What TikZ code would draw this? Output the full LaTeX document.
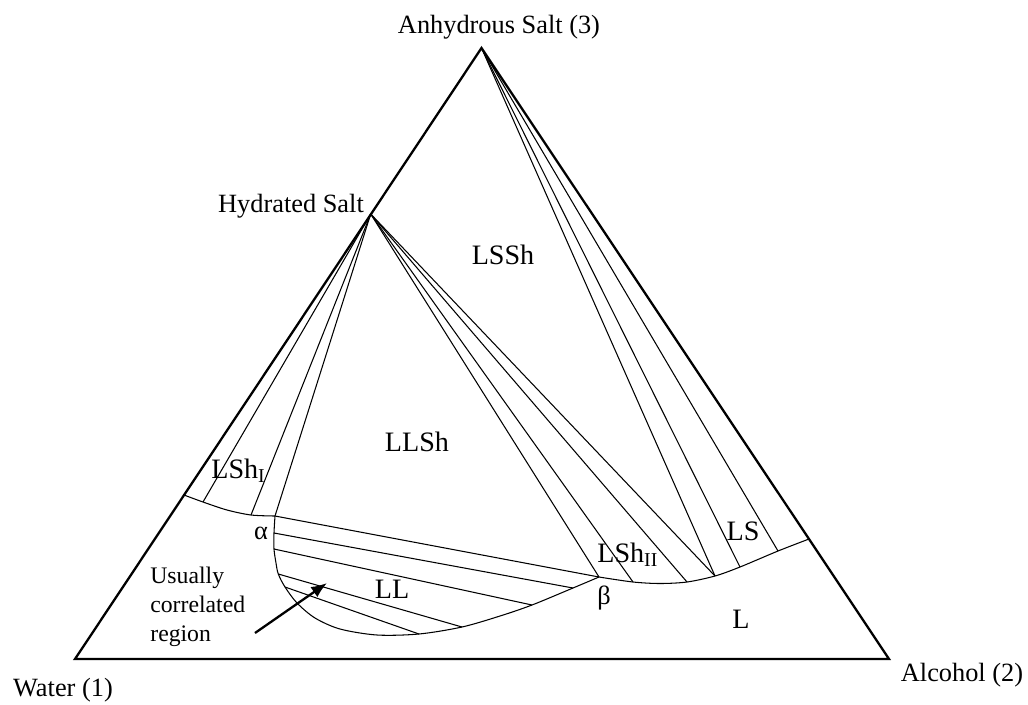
\documentclass[tikz,border=0pt]{standalone}
\usepackage{fontspec}
\setmainfont{Liberation Serif}
\usetikzlibrary{arrows.meta}
\begin{document}
\begin{tikzpicture}[x=0.02cm,y=-0.02cm,
  edge/.style={line width=1.3pt, line join=miter},
  tie/.style={line width=0.6pt},
  corner/.style={font=\fontsize{15}{17}\selectfont, inner sep=0pt, anchor=base},
  region/.style={font=\fontsize{16}{18}\selectfont, inner sep=0pt, anchor=base}]
\useasboundingbox (0,0) rectangle (1028,704);

% Corners
\coordinate (W) at (75,659);
\coordinate (A) at (481.5,48);
\coordinate (Al) at (889,659);
\coordinate (H) at (370.7,214);

% Points on the curves
\coordinate (s1) at (184,495);
\coordinate (s2) at (203,502);
\coordinate (s3) at (251,515);
\coordinate (alpha) at (275,516);
\coordinate (beta) at (599,577);
\coordinate (r1) at (633,582);
\coordinate (r2) at (687,582);
\coordinate (k) at (715,576);
\coordinate (r3) at (740,567);
\coordinate (r4) at (778,551);
\coordinate (r5) at (809,539);
\coordinate (b1) at (274,533);
\coordinate (b2) at (274,549);
\coordinate (b3) at (278.3,574);
\coordinate (b4) at (285,587);
\coordinate (c4) at (419,634);
\coordinate (c3) at (462,627);
\coordinate (c2) at (532,605);
\coordinate (c1) at (573,588);

% Triangle
\draw[edge] (W) -- (A) -- (Al) -- cycle;

% Solubility curves
\draw[tie] plot[smooth] coordinates {(s1) (s2) (227,510) (s3) (alpha)};
\draw[tie] plot[smooth] coordinates {(alpha) (b1) (b2) (276,563) (b3) (b4) (297,603) (315,618) (340,629) (377,635) (c4) (c3) (500,616) (c2) (c1) (beta)};
\draw[tie] plot[smooth] coordinates {(beta) (r1) (660,583.5) (r2) (k) (r3) (r4) (r5)};

% Tie lines
\foreach \a/\b in {H/s2, H/s3, H/alpha, H/beta, H/r1, H/r2, H/k, A/k, A/r3, A/r4,
                   alpha/beta, b1/c1, b2/c2, b3/c3, b4/c4}
    \draw[tie] (\a) -- (\b);

% Labels
\node[corner] (nA) at (499,33) {Anhydrous Salt (3)};
\node[corner] (nH) at (291,212) {Hydrated Salt};
\node[corner] (nW) at (63,696) {Water (1)};
\node[corner] (nAl) at (962,681) {Alcohol (2)};
\node[region] (lssh) at (503,264) {LSSh};
\node[region] (llsh) at (417,451) {LLSh};
\node[region, anchor=base west] (lsh1) at (211,478) {LSh\textsubscript{I}};
\node[region, anchor=base west] (lsh2) at (597,562) {LSh\textsubscript{II}};
\node[region] (ls) at (743,540) {LS};
\node[region] (ll) at (392,598) {LL};
\node[region] (l) at (741,628) {L};
\node[corner] (na) at (261,539) {α};
\node[corner] (nb) at (604,604) {β};

% Annotation
\node[font=\fontsize{13.5}{16.4}\selectfont, align=left, anchor=north west, inner sep=0pt] (note) at (150,567) {Usually\\correlated\\region};
\coordinate (tip) at (327,583);
\draw[line width=1.3pt, -{Latex[length=9pt,width=7pt]}] (255,633) -- (tip);
\end{tikzpicture}
\end{document}
